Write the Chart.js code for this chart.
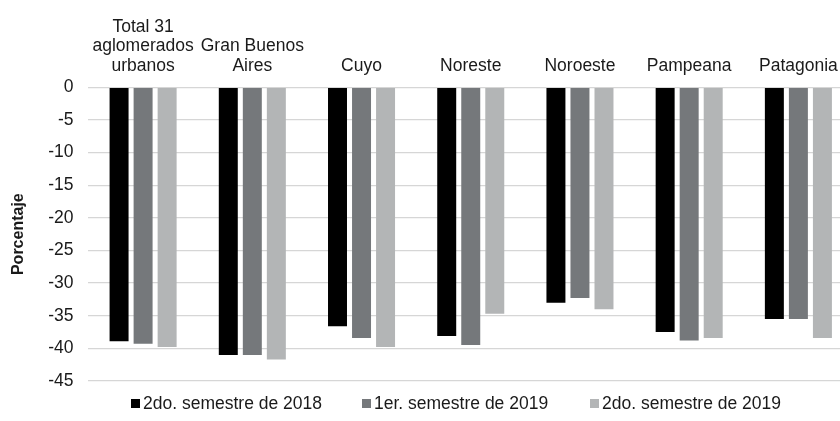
<!DOCTYPE html>
<html>
<head>
<meta charset="utf-8">
<script src="https://cdn.jsdelivr.net/npm/chart.js@4.4.1/dist/chart.umd.min.js"></script>
<style>
    html, body { margin: 0; padding: 0; background: #fff; overflow: hidden; }
    #wrap { position: relative; width: 880px; height: 421px; }
    #legend { position: absolute; left: 0; top: 394px; font: 17.5px "Liberation Sans", Arial, sans-serif; color: #1a1a1a; }
    #legend .item { position: absolute; top: 0; white-space: nowrap; line-height: 18px; display: flex; align-items: center; }
    #legend .box { width: 9px; height: 9px; margin-right: 3px; }
</style>
</head>
<body>
<div id="wrap">
    <canvas id="chart" width="880" height="421"></canvas>
    <div id="legend"></div>
</div>
<script>
// Data
const categories = [['Total 31', 'aglomerados', 'urbanos'], ['Gran Buenos', 'Aires'], 'Cuyo', 'Noreste', 'Noroeste', 'Pampeana', 'Patagonia'];
const seriesNames = ['2do. semestre de 2018', '1er. semestre de 2019', '2do. semestre de 2019'];
const sem2018b = [-38.9, -41.0, -36.6, -38.1, -33.0, -37.5, -35.5];
const sem2019a = [-39.3, -41.0, -38.4, -39.5, -32.3, -38.8, -35.5];
const sem2019b = [-39.8, -41.7, -39.8, -34.7, -34.0, -38.4, -38.4];
const Y_MIN = -45, Y_MAX = 0, Y_STEP = 5;
const yTitle = 'Porcentaje';

// Styles
const COLORS = ['#000000', '#75787b', '#b3b5b6'];
const FONT = '"Liberation Sans", Arial, sans-serif';
const TEXT = '#1a1a1a';
const LEGEND_X = [131, 362, 590];

// html legend built from the chart's own legend items
const htmlLegend = {
    id: 'htmlLegend',
    afterUpdate(chart) {
        const box = document.getElementById('legend');
        box.innerHTML = '';
        const items = chart.options.plugins.legend.labels.generateLabels(chart);
        items.forEach((item, i) => {
            const el = document.createElement('div');
            el.className = 'item';
            el.style.left = LEGEND_X[i] + 'px';
            el.innerHTML = `<span class="box" style="background:${item.fillStyle}"></span><span>${item.text}</span>`;
            box.appendChild(el);
        });
    }
};

const ctx = document.getElementById('chart').getContext('2d');
new Chart(ctx, {
    type: 'bar',
    data: {
        labels: categories,
        datasets: [
            { label: seriesNames[0], data: sem2018b, backgroundColor: COLORS[0] },
            { label: seriesNames[1], data: sem2019a, backgroundColor: COLORS[1] },
            { label: seriesNames[2], data: sem2019b, backgroundColor: COLORS[2] }
        ]
    },
    options: {
        responsive: false,
        animation: false,
        layout: { padding: { top: 6, right: 27, bottom: 40, left: 0 } },
        datasets: { bar: { categoryPercentage: 0.66, barPercentage: 0.79 } },
        plugins: {
            legend: { display: false },
            tooltip: { enabled: false }
        },
        scales: {
            x: {
                position: 'top',
                grid: { display: false, drawTicks: false },
                border: { display: false },
                ticks: {
                    autoSkip: false, maxRotation: 0, minRotation: 0, padding: 11,
                    color: TEXT, font: { family: FONT, size: 17.5, lineHeight: 1.13 }
                }
            },
            y: {
                min: Y_MIN, max: Y_MAX,
                grid: { color: '#d6d6d6', lineWidth: 1.3, drawTicks: false },
                border: { display: false },
                ticks: {
                    stepSize: Y_STEP, padding: 15,
                    color: TEXT, font: { family: FONT, size: 17.5 }
                },
                title: {
                    display: true, text: yTitle, color: TEXT,
                    padding: { top: 9, bottom: 5 },
                    font: { family: FONT, size: 16, weight: 'bold', lineHeight: 1.2 }
                }
            }
        }
    },
    plugins: [htmlLegend]
});
</script>
</body>
</html>
